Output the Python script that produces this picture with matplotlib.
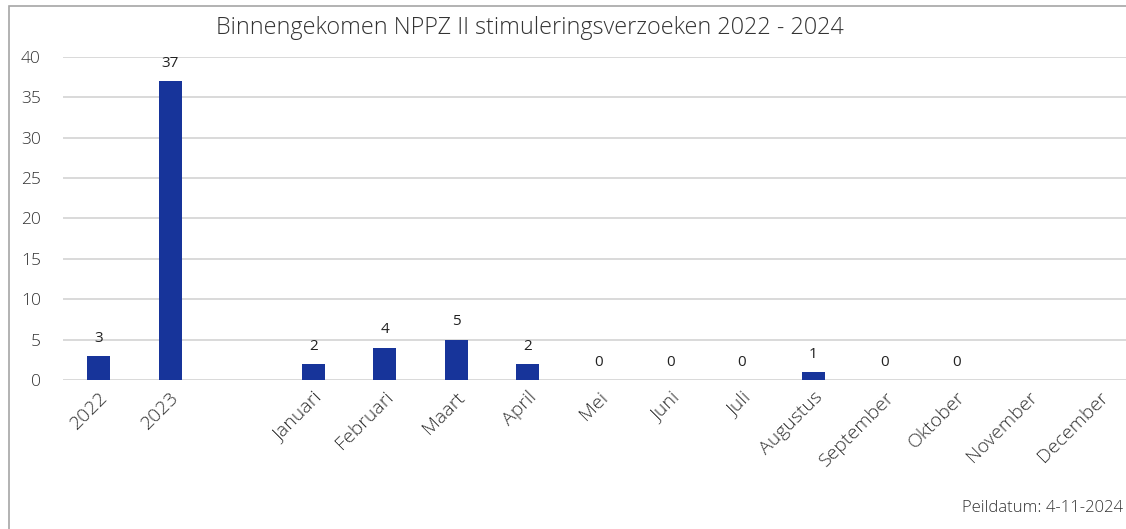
import numpy as np
import matplotlib
matplotlib.use('Agg')
import matplotlib.pyplot as plt
from matplotlib.patches import Rectangle

# data
categories = ['2022', '2023', '', 'Januari', 'Februari', 'Maart', 'April', 'Mei',
              'Juni', 'Juli', 'Augustus', 'September', 'Oktober', 'November', 'December']
values = [3, 37, None, 2, 4, 5, 2, 0, 0, 0, 1, 0, 0, None, None]
title = 'Binnengekomen NPPZ II stimuleringsverzoeken 2022 - 2024'
footnote = 'Peildatum: 4-11-2024'

plt.rcParams['font.family'] = ['Open Sans', 'DejaVu Sans']

W, H = 1126, 529
fig = plt.figure(figsize=(W / 100, H / 100), dpi=100)

# axes placed in pixel terms; right side runs past the figure edge as in the crop
x0, x1 = 63, 1135
y_top, y_bot = 57, 380
ax = fig.add_axes([x0 / W, 1 - y_bot / H, (x1 - x0) / W, (y_bot - y_top) / H])

bar_color = '#17349a'
xs = np.arange(len(categories))
heights = [v if v is not None else 0 for v in values]
bars = ax.bar(xs, heights, width=0.32, color=bar_color, zorder=3)
for i, v in enumerate(values):
    if v is None:
        bars[i].set_visible(False)
        continue
    ax.text(xs[i], v + 2.2, str(v), ha='center', va='center', fontsize=11,
            color='#222222')

ax.set_xlim(-0.5, len(categories) - 0.5)
ax.set_ylim(0, 40)
ax.set_yticks(range(0, 41, 5))
ax.yaxis.grid(True, color='#d9d9d9', linewidth=1.4, zorder=0)
ax.set_axisbelow(True)
for s in ax.spines.values():
    s.set_visible(False)
ax.tick_params(axis='both', length=0, labelsize=12.5, colors='#333333')
ax.tick_params(axis='y', pad=16)
ax.tick_params(axis='x', pad=6, labelsize=14)
ax.set_xticks(xs)
ax.set_xticklabels(categories, rotation=45, ha='right', rotation_mode='anchor')
for lab in ax.get_xticklabels() + ax.get_yticklabels():
    lab.set_fontweight('light')

fig.text(530 / W, 1 - 28 / H, title, ha='center', va='center', fontsize=16.8,
         color='#333333', fontweight='light')
fig.text(1123 / W, 1 - 508 / H, footnote, ha='right', va='center', fontsize=12,
         color='#333333', fontweight='light')

# outer chart frame (cropped on right and bottom)
fig.add_artist(Rectangle((9 / W, -0.1), 1.2, 1 - 6 / H + 0.1, transform=fig.transFigure,
                         fill=False, edgecolor='#a6a6a6', linewidth=1.2))

plt.savefig('out.png', dpi=100)
plt.close()
